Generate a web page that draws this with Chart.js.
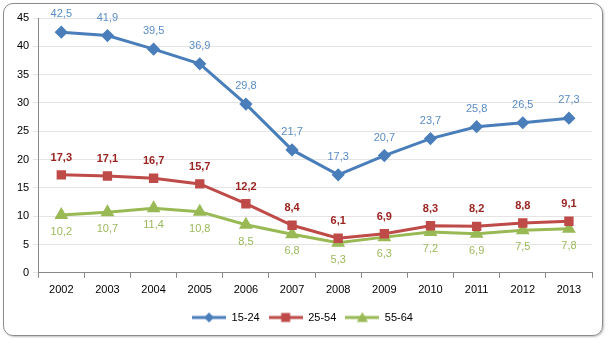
<!DOCTYPE html>
<html lang="en">
<head>
  <meta charset="utf-8">
  <title>Unemployment by age group</title>
  <style>
    html, body { margin: 0; padding: 0; background: #fff; }
    #frame {
      position: absolute; left: 3px; top: 3px; width: 600px; height: 333px;
      border: 1px solid #8c8c8c; border-radius: 10px; box-sizing: border-box;
      box-shadow: 1px 1px 2px rgba(0,0,0,0.25);
    }
    #chartContainer { position: absolute; left: 4px; top: 4px; width: 598px; height: 331px; }
  </style>
  <script src="https://cdn.jsdelivr.net/npm/chart.js"></script>
</head>
<body>
  <div id="frame"></div>
  <div id="chartContainer">
    <canvas id="lineChart" width="598" height="331"></canvas>
  </div>
  <script>
    const years = ['2002', '2003', '2004', '2005', '2006', '2007', '2008', '2009', '2010', '2011', '2012', '2013'];
    const age15to24 = [42.5, 41.9, 39.5, 36.9, 29.8, 21.7, 17.3, 20.7, 23.7, 25.8, 26.5, 27.3];
    const age25to54 = [17.3, 17.1, 16.7, 15.7, 12.2, 8.4, 6.1, 6.9, 8.3, 8.2, 8.8, 9.1];
    const age55to64 = [10.2, 10.7, 11.4, 10.8, 8.5, 6.8, 5.3, 6.3, 7.2, 6.9, 7.5, 7.8];

    const fontFamily = "'Liberation Sans', 'DejaVu Sans', sans-serif";

    // small line+marker swatch for the legend
    function legendSwatch(color, style) {
      const c = document.createElement('canvas');
      c.width = 34; c.height = 12;
      const g = c.getContext('2d');
      g.strokeStyle = color; g.fillStyle = color; g.lineWidth = 3;
      g.beginPath(); g.moveTo(0, 6); g.lineTo(34, 6); g.stroke();
      g.beginPath();
      if (style === 'rectRot') {
        g.moveTo(17, 1); g.lineTo(22, 6); g.lineTo(17, 11); g.lineTo(12, 6);
      } else if (style === 'rect') {
        g.rect(12.5, 1.5, 9, 9);
      } else {
        g.moveTo(17, 0.5); g.lineTo(22.5, 10.5); g.lineTo(11.5, 10.5);
      }
      g.closePath(); g.fill();
      return c;
    }

    // value labels written next to each point, using the point positions from the chart
    const valueLabels = {
      id: 'valueLabels',
      afterDatasetsDraw(chart) {
        const ctx = chart.ctx;
        chart.data.datasets.forEach((ds, i) => {
          const meta = chart.getDatasetMeta(i);
          ctx.save();
          ctx.font = (ds.labelBold ? 'bold ' : '') + '11px ' + fontFamily;
          ctx.fillStyle = ds.labelColor;
          ctx.textAlign = 'center';
          ctx.textBaseline = 'middle';
          meta.data.forEach((pt, j) => {
            const txt = ds.data[j].toFixed(1).replace('.', ',');
            ctx.fillText(txt, pt.x, pt.y + ds.labelOffset);
          });
          ctx.restore();
        });
      }
    };

    const ctx = document.getElementById('lineChart').getContext('2d');
    new Chart(ctx, {
      type: 'line',
      data: {
        labels: years,
        datasets: [{
          label: '15-24',
          data: age15to24,
          borderColor: '#4A7EBB',
          backgroundColor: '#4A7EBB',
          borderWidth: 3,
          pointStyle: 'rectRot',
          pointRadius: 4.5,
          labelColor: '#5B8CC4',
          labelOffset: -18,
          labelBold: false
        }, {
          label: '25-54',
          data: age25to54,
          borderColor: '#BE4B48',
          backgroundColor: '#BE4B48',
          borderWidth: 3,
          pointStyle: 'rect',
          pointRadius: 4.5,
          labelColor: '#9B2421',
          labelOffset: -17,
          labelBold: true
        }, {
          label: '55-64',
          data: age55to64,
          borderColor: '#98B954',
          backgroundColor: '#98B954',
          borderWidth: 3,
          pointStyle: 'triangle',
          pointRadius: 5,
          labelColor: '#9BB95C',
          labelOffset: 17,
          labelBold: false
        }]
      },
      options: {
        responsive: false,
        animation: false,
        layout: { padding: { left: 9, right: 10, top: 14, bottom: 2 } },
        plugins: {
          legend: {
            position: 'bottom',
            labels: {
              color: '#000',
              font: { family: fontFamily, size: 11 },
              usePointStyle: true,
              pointStyleWidth: 34,
              padding: 9,
              generateLabels(chart) {
                return chart.data.datasets.map((ds, i) => ({
                  text: ds.label,
                  fontColor: '#000',
                  pointStyle: legendSwatch(ds.borderColor, ds.pointStyle),
                  datasetIndex: i,
                  hidden: false,
                  lineWidth: 0
                }));
              }
            }
          },
          tooltip: { enabled: false }
        },
        scales: {
          x: {
            offset: true,
            grid: { display: true, drawOnChartArea: false, offset: true, tickLength: 5, color: '#888' },
            border: { color: '#888' },
            ticks: { color: '#000', font: { family: fontFamily, size: 11 }, padding: 6 }
          },
          y: {
            min: 0,
            max: 45,
            grid: { color: '#e4e4e4', tickLength: 5 },
            border: { color: '#888' },
            ticks: { stepSize: 5, color: '#000', font: { family: fontFamily, size: 11 }, padding: 4 }
          }
        }
      },
      plugins: [valueLabels]
    });
  </script>
</body>
</html>
